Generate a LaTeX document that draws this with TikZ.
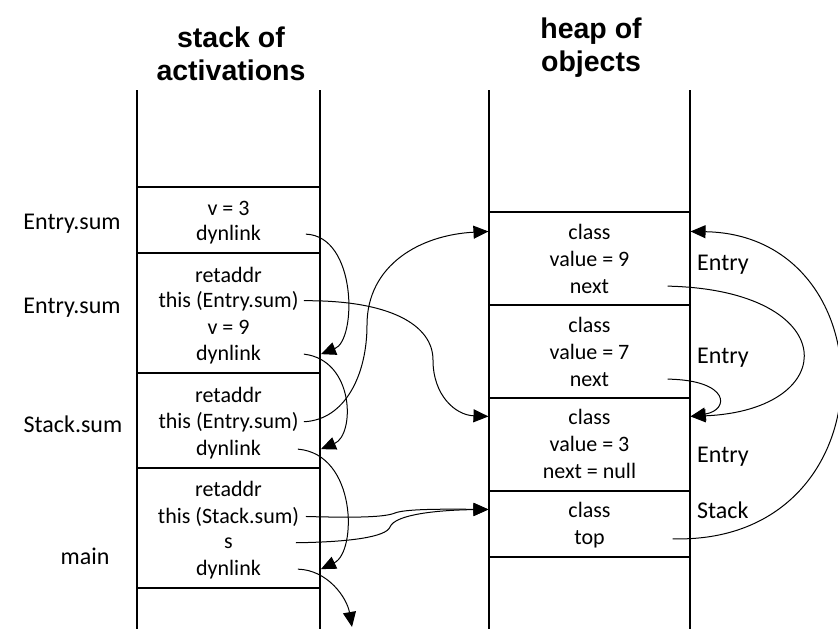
\documentclass[tikz,border=0pt]{standalone}
\usepackage{fontspec}
\setmainfont{Carlito}
\newfontfamily\titlefont{Liberation Sans}
\usetikzlibrary{arrows.meta,calc}
\begin{document}
\begin{tikzpicture}[x=1pt,y=-1pt,
  txt/.style={font=\fontsize{22}{26}\selectfont, inner sep=0pt, anchor=base},
  lab/.style={font=\fontsize{24}{28}\selectfont, inner sep=0pt, anchor=base},
  rlab/.style={font=\fontsize{24}{28}\selectfont, inner sep=0pt, anchor=base west},
  ttl/.style={font=\titlefont\bfseries\fontsize{28.5}{33}\selectfont, inner sep=0pt, anchor=base},
  frame/.style={draw, line width=1.8pt, minimum width=183pt, inner sep=0pt},
  obj/.style={draw, line width=1.1pt, minimum width=201pt, inner sep=0pt},
  col/.style={line width=1.1pt},
  arr/.style={line width=1pt, -{Triangle[length=15pt,width=13pt]}},
]
\useasboundingbox[fill=white] (0,0) rectangle (838,629);

% titles
\node[ttl] (t1a) at (231,47) {stack of};
\node[ttl] (t1b) at (231,80) {activations};
\node[ttl] (t2a) at (591,38) {heap of};
\node[ttl] (t2b) at (591,71) {objects};

% columns
\draw[col] (137,90) -- (137,629);
\draw[col] (320,90) -- (320,629);
\draw[col] (489,90) -- (489,629);
\draw[col] (690,90) -- (690,629);

% stack frames
\node[frame, minimum height=66pt]  (f1) at (228.5,220)   {};
\node[frame, minimum height=120pt] (f2) at (228.5,313)   {};
\node[frame, minimum height=95pt]  (f3) at (228.5,420.5) {};
\node[frame, minimum height=120pt] (f4) at (228.5,528)   {};

\node[txt] (f1v)   at (228.5,215) {v = 3};
\node[txt] (f1dyn) at (228.5,240) {dynlink};

\node[txt] (f2ret)  at (228.5,282) {retaddr};
\node[txt] (f2this) at (228.5,307) {this (Entry.sum)};
\node[txt] (f2v)    at (228.5,334) {v = 9};
\node[txt] (f2dyn)  at (228.5,360) {dynlink};

\node[txt] (f3ret)  at (228.5,402) {retaddr};
\node[txt] (f3this) at (228.5,428) {this (Entry.sum)};
\node[txt] (f3dyn)  at (228.5,455) {dynlink};

\node[txt] (f4ret)  at (228.5,496) {retaddr};
\node[txt] (f4this) at (228.5,523) {this (Stack.sum)};
\node[txt] (f4s)    at (228.5,548) {s};
\node[txt] (f4dyn)  at (228.5,575) {dynlink};

% left labels
\node[lab] (l1) at (72,229) {Entry.sum};
\node[lab] (l2) at (72,313) {Entry.sum};
\node[lab] (l3) at (73,432) {Stack.sum};
\node[lab] (l4) at (85,564) {main};

% heap objects
\node[obj, minimum height=93pt] (o1) at (589.5,258.5) {};
\node[obj, minimum height=93pt] (o2) at (589.5,351.5) {};
\node[obj, minimum height=93pt] (o3) at (589.5,444.5) {};
\node[obj, minimum height=66pt] (o4) at (589.5,524)   {};

\node[txt] (o1c) at (589.5,239) {class};
\node[txt] (o1v) at (589.5,266) {value = 9};
\node[txt] (o1n) at (589.5,293) {next};

\node[txt] (o2c) at (589.5,332) {class};
\node[txt] (o2v) at (589.5,359) {value = 7};
\node[txt] (o2n) at (589.5,386) {next};

\node[txt] (o3c) at (589.5,424) {class};
\node[txt] (o3v) at (589.5,451) {value = 3};
\node[txt] (o3n) at (589.5,478) {next = null};

\node[txt] (o4c) at (589.5,517) {class};
\node[txt] (o4t) at (589.5,544) {top};

% right labels
\node[rlab] (r1) at (697,270) {Entry};
\node[rlab] (r2) at (697,363) {Entry};
\node[rlab] (r3) at (697,462) {Entry};
\node[rlab] (r4) at (697,518) {Stack};

\coordinate (exit) at (352,627);

% dynamic links
\draw[arr] ($(f1dyn -| f1.east)+(-15,0)$) .. controls (357,236) and (357,340) .. (f2dyn -| f2.east);
\draw[arr] ($(f2dyn -| f2.east)+(-17,0)$) .. controls (355,360) and (355,435) .. (f3dyn -| f3.east);
\draw[arr] ($(f3dyn -| f3.east)+(-23,0)$) .. controls (357,454) and (357,552) .. (f4dyn -| f4.east);
\draw[arr] ($(f4dyn -| f4.east)+(-23,0)$) .. controls (328,570) and (347,598) .. (exit);

% this pointers
\draw[arr] ($(f2this -| f2.east)+(-17,0)$) .. controls (390,300) and (433,325) .. (433,360)
  .. controls (433,395) and (455,415) .. (o3c -| o3.west);
\draw[arr] ($(f3this -| f3.east)+(-17,0)$) .. controls (345,420) and (367,375) .. (367,325)
  .. controls (367,265) and (420,235) .. (o1c -| o1.west);
\draw[arr] ($(f4this -| f4.east)+(-15,0)$) .. controls (360,518) and (385,517) .. (395,513)
  .. controls (405,509) and (440,509) .. (o4c -| o4.west);
\draw[arr] ($(f4s -| f4.east)+(-25,0)$) .. controls (350,542) and (386,537) .. (390,527)
  .. controls (395,514) and (440,510) .. (o4c -| o4.west);

% heap links
\draw[arr] ($(o1n -| o1.east)+(-23,0)$) .. controls (843,290) and (843,410) .. (o3c -| o3.east);
\draw[arr] ($(o2n -| o2.east)+(-23,0)$) .. controls (730,380) and (730,410) .. (o3c -| o3.east);
\draw[arr] ($(o4t -| o4.east)+(-18,0)$) .. controls (892,545) and (892,235) .. (o1c -| o1.east);
\end{tikzpicture}
\end{document}
